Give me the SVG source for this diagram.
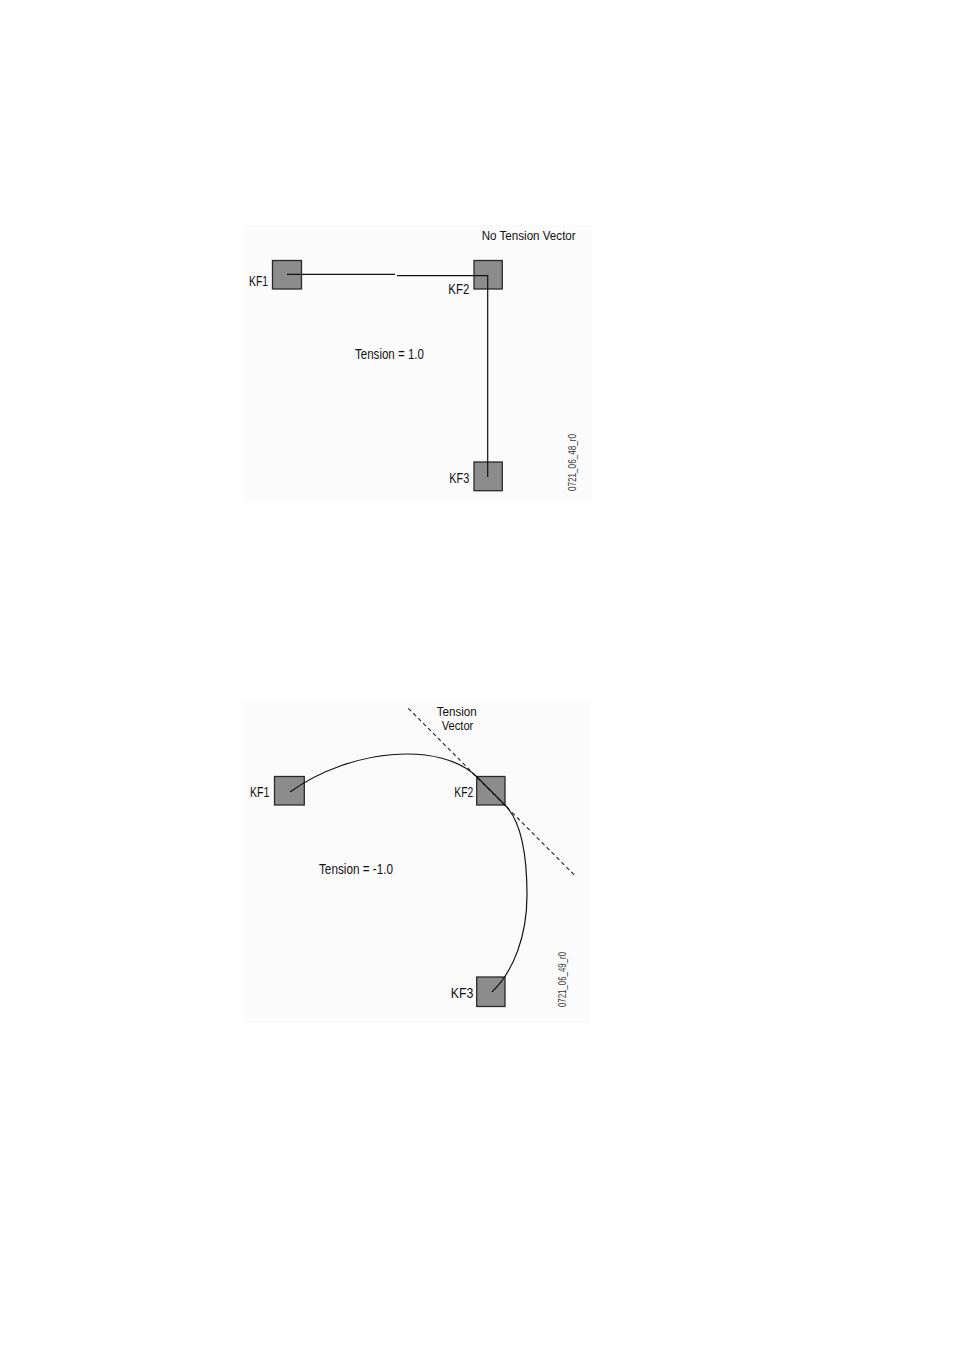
<svg xmlns="http://www.w3.org/2000/svg" width="954" height="1350" viewBox="0 0 954 1350">
<style>
.panel{fill:#fbfbfb;stroke:none}
.kf{fill:#8c8c8c;stroke:#2a2a2a;stroke-width:1.3}
.ln{fill:none;stroke:#111;stroke-width:1.2}
.dash{fill:none;stroke:#222;stroke-width:1.1;stroke-dasharray:4 3}
.t{font-family:"Liberation Sans",Arial,sans-serif;fill:#111}
.lbl{font-size:14.5px}
.cap{font-size:13px}
.code{font-size:10.5px;fill:#333}
</style>
<rect width="954" height="1350" fill="#ffffff"/>
<rect class="panel" x="243" y="225" width="349" height="277"/>
<rect class="panel" x="243" y="700" width="347" height="323"/>

<g id="top-kf1"><rect class="kf" x="272.5" y="260.5" width="29" height="28.5"/><text class="t lbl" x="249" y="285.7" textLength="19" lengthAdjust="spacingAndGlyphs">KF1</text></g>
<g id="top-kf2"><rect class="kf" x="474" y="260.5" width="28.3" height="28.5"/><text class="t lbl" x="448.3" y="294" textLength="21" lengthAdjust="spacingAndGlyphs">KF2</text></g>
<g id="top-kf3"><rect class="kf" x="474" y="462" width="28.3" height="28.7"/><text class="t lbl" x="449.3" y="483.3" textLength="20" lengthAdjust="spacingAndGlyphs">KF3</text></g>
<g id="top-labels">
<text class="t cap" x="481.7" y="240" textLength="94" lengthAdjust="spacingAndGlyphs">No Tension Vector</text>
<text class="t lbl" x="355" y="359" textLength="69" lengthAdjust="spacingAndGlyphs">Tension = 1.0</text>
<text class="t code" transform="translate(576 491) rotate(-90)" textLength="57" lengthAdjust="spacingAndGlyphs">0721_06_48_r0</text>
</g>

<g id="bot-kf1"><rect class="kf" x="274.5" y="776.5" width="29.8" height="28.5"/><text class="t lbl" x="250" y="796.7" textLength="19.3" lengthAdjust="spacingAndGlyphs">KF1</text></g>
<g id="bot-kf2"><rect class="kf" x="476.7" y="776.5" width="28.3" height="28.5"/><text class="t lbl" x="454.3" y="796.7" textLength="19" lengthAdjust="spacingAndGlyphs">KF2</text></g>
<g id="bot-kf3"><rect class="kf" x="476.7" y="977" width="28.3" height="29.5"/><text class="t lbl" x="450.7" y="998" textLength="22.6" lengthAdjust="spacingAndGlyphs">KF3</text></g>
<g id="bot-labels">
<text class="t cap" x="436.7" y="715.7" textLength="40" lengthAdjust="spacingAndGlyphs">Tension</text>
<text class="t cap" x="441.7" y="729.5" textLength="31.6" lengthAdjust="spacingAndGlyphs">Vector</text>
<text class="t lbl" x="319" y="874" textLength="74" lengthAdjust="spacingAndGlyphs">Tension = -1.0</text>
<text class="t code" transform="translate(566 1007) rotate(-90)" textLength="55" lengthAdjust="spacingAndGlyphs">0721_06_49_r0</text>
</g>

<g id="connectors">
<path class="ln" d="M287 274.3 L395 274.3 M397 275.7 L487.7 275.7 L487.7 477"/>
<path class="dash" d="M408.3 708.3 L574.3 875"/>
<path class="ln" d="M290 792 C353 747 442 742 477 777 L505 805 C520 820 527 850 527 895 C527 935 514 971 492 992"/>
</g>
</svg>
